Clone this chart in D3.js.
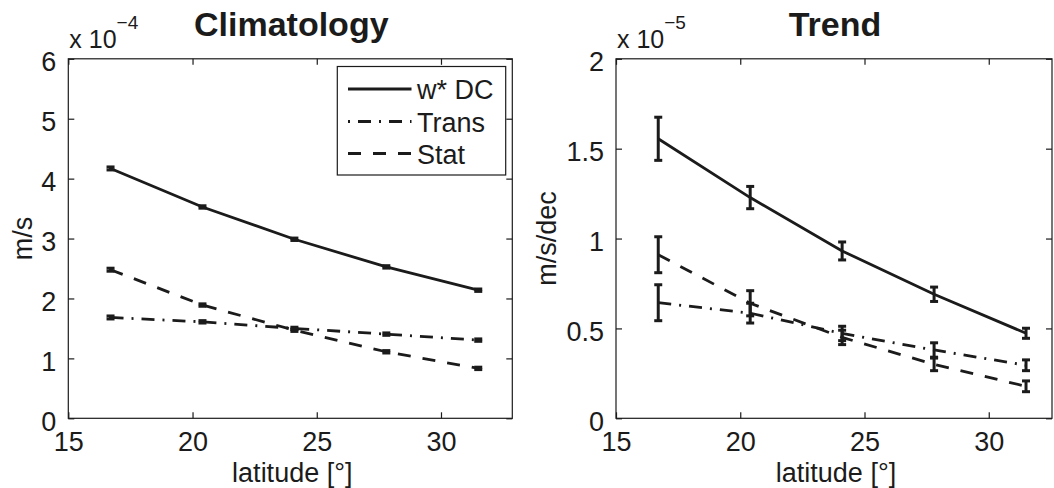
<!DOCTYPE html>
<html>
<head>
<meta charset="utf-8">
<script src="https://cdn.jsdelivr.net/npm/d3@7"></script>
<style>
  body { margin: 0; background: #fff; }
  svg { display: block; font-family: "Liberation Sans", Arial, sans-serif; }
</style>
</head>
<body>
<div id="chart"></div>
<script>
// latitude of the five bands
const lat = [16.7, 20.4, 24.1, 27.8, 31.5];

// climatology, units of 1e-4 m/s
const climDC = [4.17, 3.527, 2.988, 2.527, 2.138];
const climTrans = [1.683, 1.61, 1.50, 1.405, 1.305];
const climStat = [2.48, 1.89, 1.47, 1.11, 0.833];
const climErr = [0.025, 0.02, 0.02, 0.02, 0.02];

// trend, units of 1e-5 m/s/dec
const trendDC = [1.555, 1.228, 0.931, 0.69, 0.473];
const trendDCErr = [0.12, 0.062, 0.05, 0.04, 0.028];
const trendTrans = [0.643, 0.585, 0.472, 0.38, 0.295];
const trendTransErr = [0.1, 0.055, 0.04, 0.04, 0.03];
const trendStat = [0.91, 0.64, 0.45, 0.30, 0.178];
const trendStatErr = [0.1, 0.07, 0.04, 0.035, 0.03];

const seriesNames = ["w* DC", "Trans", "Stat"];
const dashes = [null, "13 8 2 8", "13 12"];

const climTicks = [0, 1, 2, 3, 4, 5, 6];
const trendTicks = [0, 0.5, 1, 1.5, 2];
const latTicks = [15, 20, 25, 30];

const INK = "#1b1b1b";
const FS = 27;

const svg = d3.select("#chart").append("svg")
  .attr("width", 1054)
  .attr("height", 488);

function panel(opt) {
  const x = d3.scaleLinear().domain([15, opt.xmax]).range([opt.left, opt.right]);
  const y = d3.scaleLinear().domain(opt.ydom).range([418.3, 58.8]);
  const g = svg.append("g");

  // frame
  g.append("rect")
    .attr("x", opt.left).attr("y", 58.8)
    .attr("width", opt.right - opt.left).attr("height", 418.3 - 58.8)
    .attr("fill", "none").attr("stroke", INK).attr("stroke-width", 1.2);

  // ticks inward on all four sides
  const fmt = d3.format("~g");
  const xb = g.append("g").attr("transform", "translate(0,418.3)")
    .call(d3.axisBottom(x).tickValues(latTicks).tickSizeInner(-6).tickSizeOuter(0).tickPadding(14));
  const xt = g.append("g").attr("transform", "translate(0,58.8)")
    .call(d3.axisTop(x).tickValues(latTicks).tickSizeInner(-6).tickSizeOuter(0).tickFormat(""));
  const yl = g.append("g").attr("transform", `translate(${opt.left},0)`)
    .call(d3.axisLeft(y).tickValues(opt.yticks).tickFormat(fmt).tickSizeInner(-6).tickSizeOuter(0).tickPadding(12));
  const yr = g.append("g").attr("transform", `translate(${opt.right},0)`)
    .call(d3.axisRight(y).tickValues(opt.yticks).tickSizeInner(-6).tickSizeOuter(0).tickFormat(""));
  [xb, xt, yl, yr].forEach(a => {
    a.select(".domain").remove();
    a.selectAll("line").attr("stroke", INK).attr("stroke-width", 1.2);
    a.selectAll("text").attr("fill", INK).attr("font-size", FS).attr("font-family", "Liberation Sans, Arial, sans-serif");
  });
  yl.selectAll("text").attr("dy", "0.45em");
  xb.selectAll("text").attr("dy", "0.71em");

  const line = d3.line().x(d => x(d[0])).y(d => y(d[1]));

  opt.series.forEach((s, i) => {
    g.append("path")
      .datum(lat.map((v, j) => [v, s.vals[j]]))
      .attr("d", line)
      .attr("fill", "none")
      .attr("stroke", INK)
      .attr("stroke-width", 2.8)
      .attr("stroke-dasharray", dashes[i]);

    const eb = g.append("g").selectAll("g")
      .data(lat.map((v, j) => ({ x: v, y: s.vals[j], e: s.err[j] })))
      .join("g")
      .attr("stroke", INK)
      .attr("stroke-width", 3);
    eb.append("line")
      .attr("x1", d => x(d.x)).attr("x2", d => x(d.x))
      .attr("y1", d => y(d.y - d.e)).attr("y2", d => y(d.y + d.e));
    eb.append("line")
      .attr("x1", d => x(d.x) - 4).attr("x2", d => x(d.x) + 4)
      .attr("y1", d => y(d.y + d.e)).attr("y2", d => y(d.y + d.e));
    eb.append("line")
      .attr("x1", d => x(d.x) - 4).attr("x2", d => x(d.x) + 4)
      .attr("y1", d => y(d.y - d.e)).attr("y2", d => y(d.y - d.e));
  });

  // title
  g.append("text")
    .attr("x", (opt.left + opt.right) / 2 + 1).attr("y", 36)
    .attr("text-anchor", "middle")
    .attr("font-size", 34).attr("font-weight", "bold")
    .attr("fill", INK)
    .text(opt.title);

  // exponent label
  const ex = g.append("text")
    .attr("x", opt.left + 1).attr("y", 48)
    .attr("font-size", 25).attr("fill", INK);
  ex.append("tspan").text("x 10");
  ex.append("tspan").attr("dy", -19).attr("font-size", 19).text(opt.exp);

  // axis titles
  g.append("text")
    .attr("x", (opt.left + opt.right) / 2 + 2).attr("y", 482)
    .attr("text-anchor", "middle")
    .attr("font-size", FS).attr("fill", INK)
    .text("latitude [°]");
  g.append("text")
    .attr("transform", `translate(${opt.ylabX},238.5) rotate(-90)`)
    .attr("text-anchor", "middle")
    .attr("font-size", FS).attr("fill", INK)
    .text(opt.ylabel);

  return { x, y, g };
}

panel({
  left: 68.3, right: 512.3, xmax: 32.87,
  ydom: [0, 6], yticks: climTicks,
  title: "Climatology", exp: "\u22124", ylabel: "m/s", ylabX: 32,
  series: [
    { vals: climDC, err: climErr },
    { vals: climTrans, err: climErr },
    { vals: climStat, err: climErr }
  ]
});

panel({
  left: 616, right: 1052, xmax: 15 + 436 / 24.85,
  ydom: [0, 2], yticks: trendTicks,
  title: "Trend", exp: "\u22125", ylabel: "m/s/dec", ylabX: 556,
  series: [
    { vals: trendDC, err: trendDCErr },
    { vals: trendTrans, err: trendTransErr },
    { vals: trendStat, err: trendStatErr }
  ]
});

// legend in the climatology panel
const lg = svg.append("g");
lg.append("rect")
  .attr("x", 337.3).attr("y", 66.5)
  .attr("width", 168.4).attr("height", 108.5)
  .attr("fill", "#fff").attr("stroke", INK).attr("stroke-width", 1.2);
const rows = [89, 121.5, 153.5];
seriesNames.forEach((name, i) => {
  lg.append("line")
    .attr("x1", 348).attr("x2", 411.5)
    .attr("y1", rows[i]).attr("y2", rows[i])
    .attr("stroke", INK).attr("stroke-width", 2.8)
    .attr("stroke-dasharray", dashes[i])
    .attr("stroke-dashoffset", i === 1 ? 21 : 0);
  lg.append("text")
    .attr("x", 417).attr("y", rows[i] + 10)
    .attr("font-size", FS).attr("fill", INK)
    .text(name);
});
</script>
</body>
</html>
